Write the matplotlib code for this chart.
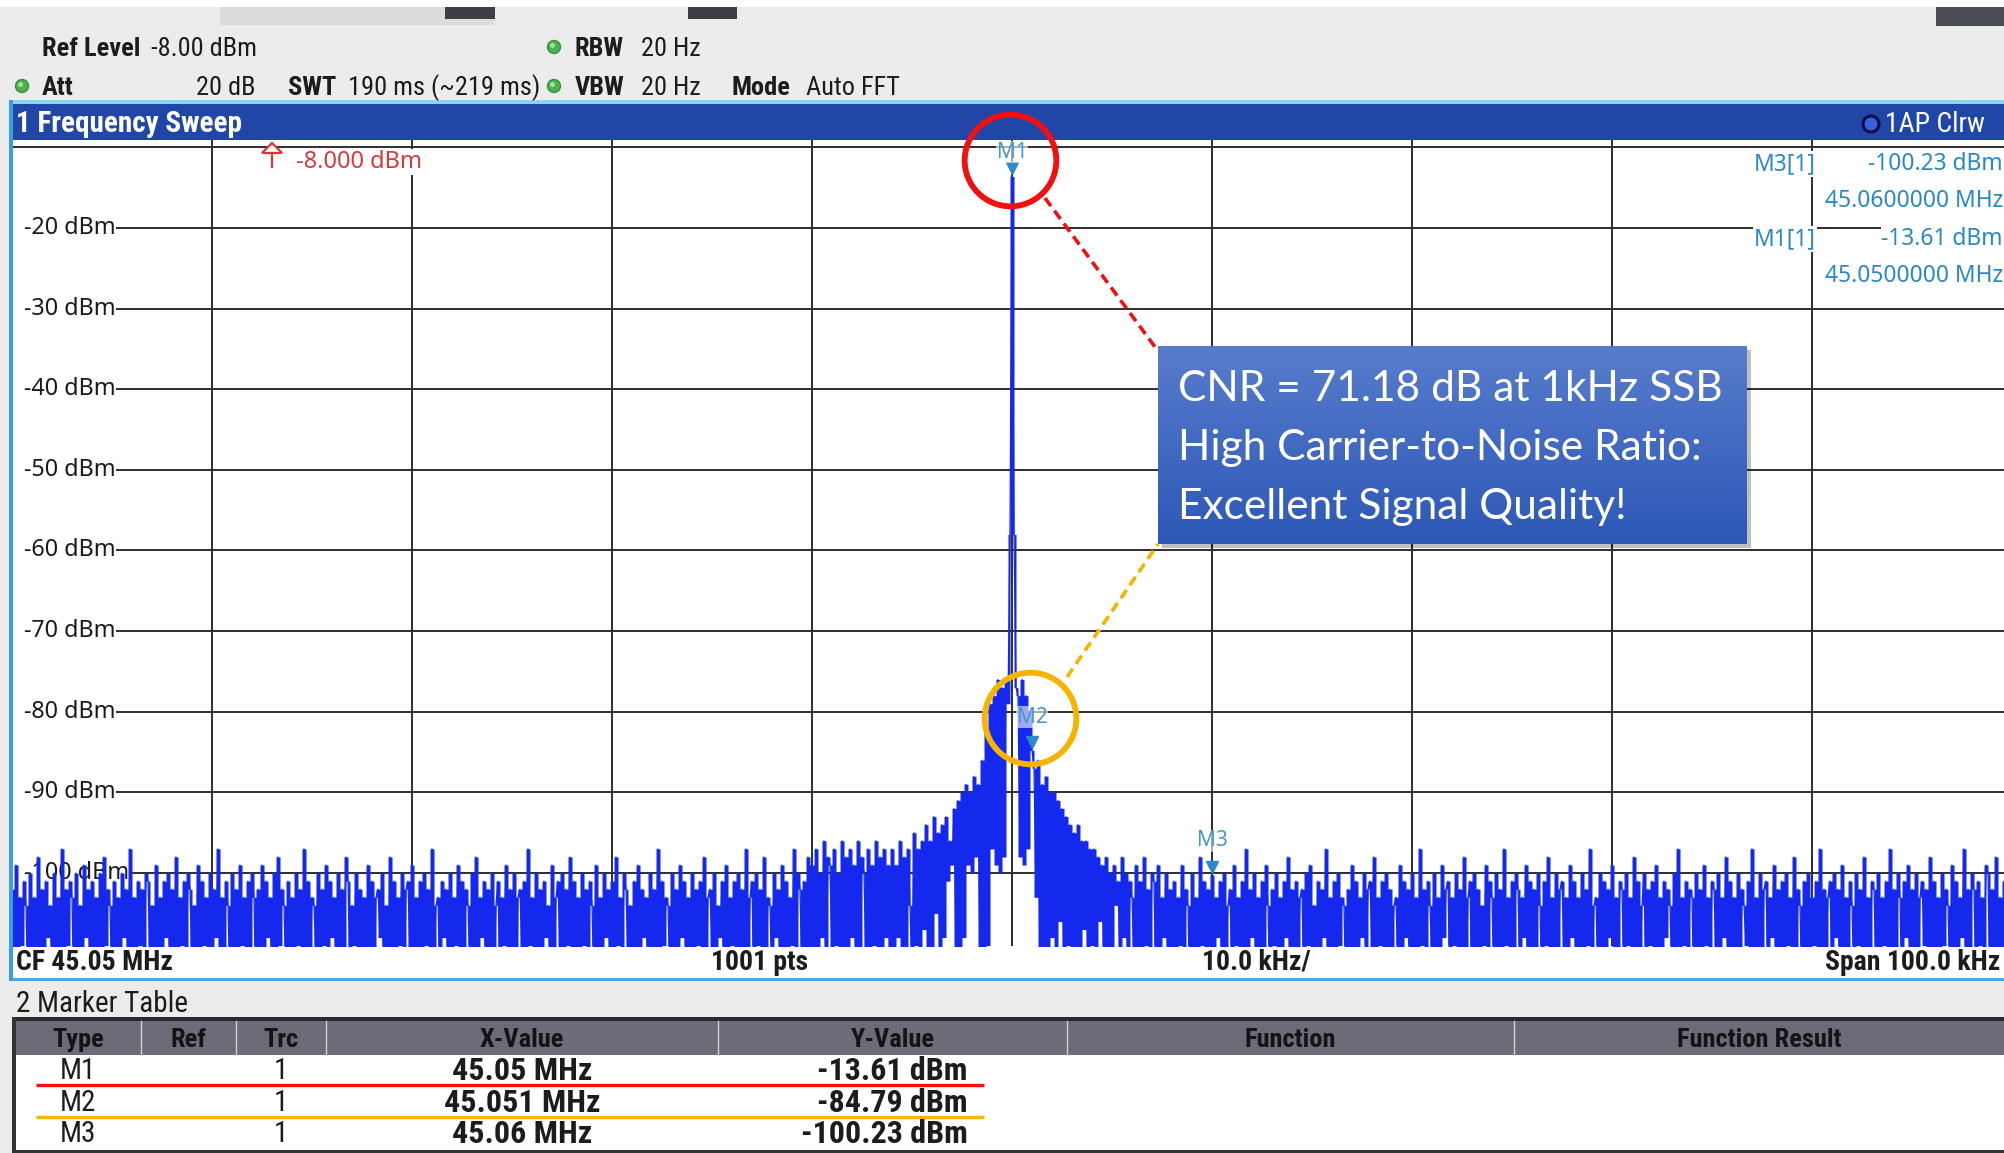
import matplotlib
matplotlib.use('Agg')
import matplotlib.pyplot as plt
import numpy as np
from matplotlib import font_manager
from matplotlib.patches import Rectangle, Circle, Polygon
import matplotlib.transforms as mtransforms

# ------------------------------------------------------------------ data
center_freq_mhz = 45.05
span_khz = 100.0
n_points = 1001
ref_level_dbm = -8.0
attenuation_db = 20
sweep_time_ms = 190
sweep_time_est_ms = 219
rbw_hz = 20
vbw_hz = 20

grid_levels_dbm = [-10, -20, -30, -40, -50, -60, -70, -80, -90, -100]
level_labels_dbm = [-20, -30, -40, -50, -60, -70, -80, -90, -100]
grid_freqs_mhz = [45.01, 45.02, 45.03, 45.04, 45.05, 45.06, 45.07, 45.08, 45.09]

# trace 1, points 0..439 (45.000 .. 45.0439 MHz)
trace_left_dbm = [
    -102, -112, -99, -115, -103, -109, -101, -104, -117, -100, -111, -103, -119, -98, -110, -102, -114, -101, -108, -104,
    -113, -100, -116, -103, -110, -97, -112, -102, -109, -101, -103, -118, -100, -111, -104, -115, -99, -108, -102, -113,
    -101, -110, -103, -117, -100, -112, -98, -109, -102, -104, -115, -101, -111, -103, -119, -100, -108, -102, -113, -97,
    -110, -103, -116, -101, -109, -102, -114, -100, -101, -112, -104, -118, -99, -110, -103, -113, -101, -108, -100, -115,
    -102, -111, -98, -117, -103, -109, -101, -114, -100, -102, -112, -104, -110, -99, -116, -101, -109, -103, -119, -100,
    -112, -102, -108, -97, -113, -103, -111, -101, -104, -115, -100, -110, -102, -117, -99, -109, -103, -112, -101, -114,
    -100, -103, -118, -102, -110, -99, -113, -101, -108, -103, -116, -100, -111, -98, -109, -102, -104, -114, -101, -112,
    -103, -117, -100, -109, -102, -113, -97, -110, -101, -115, -103, -104, -111, -100, -118, -102, -109, -99, -114, -101,
    -108, -103, -112, -100, -116, -102, -110, -98, -101, -113, -104, -109, -100, -119, -102, -111, -103, -115, -99, -110,
    -101, -114, -103, -102, -108, -100, -117, -104, -112, -98, -110, -101, -113, -103, -109, -100, -116, -102, -101, -111,
    -99, -115, -103, -110, -101, -118, -100, -109, -102, -113, -97, -111, -104, -103, -116, -101, -108, -102, -114, -100,
    -112, -103, -109, -99, -117, -101, -110, -102, -104, -113, -100, -115, -98, -111, -103, -108, -101, -119, -102, -110,
    -100, -113, -104, -101, -116, -103, -109, -99, -112, -102, -110, -100, -118, -103, -102, -111, -101, -114, -97, -109,
    -103, -115, -100, -110, -102, -117, -101, -108, -104, -112, -99, -113, -103, -101, -110, -100, -116, -102, -109, -98,
    -114, -101, -111, -103, -119, -100, -109, -102, -113, -101, -104, -115, -99, -110, -103, -117, -100, -108, -102, -112,
    -101, -116, -98, -109, -103, -114, -100, -102, -111, -104, -118, -101, -110, -99, -113, -102, -108, -103, -115, -100,
    -112, -102, -110, -97, -117, -101, -109, -103, -104, -114, -100, -111, -102, -116, -99, -108, -101, -113, -103, -110,
    -100, -119, -102, -109, -101, -112, -98, -115, -103, -102, -110, -100, -114, -104, -108, -101, -117, -99, -111, -103,
    -109, -101, -113, -100, -116, -102, -110, -97, -112, -103, -101, -118, -100, -109, -102, -114, -98, -111, -103, -104,
    -115, -100, -108, -102, -113, -99, -110, -101, -117, -103, -109, -97, -112, -100, -102, -114, -101, -110, -98, -116,
    -99, -110, -97, -113, -100, -108, -96, -115, -98, -99, -111, -97, -109, -100, -117, -96, -110, -98, -112, -97,
    -108, -99, -114, -96, -110, -98, -100, -112, -97, -116, -99, -109, -96, -113, -98, -111, -97, -108, -99, -114,
]

# trace 1, points 440..560 (carrier skirt, 45.0440 .. 45.0560 MHz)
trace_center_dbm = [
    -97, -112, -99, -108, -96, -110, -98, -115, -97, -104, -113, -95, -109, -97, -118, -96, -107, -94, -112, -96,
    -110, -93, -105, -95, -114, -94, -108, -93, -101, -96, -99, -92, -111, -91, -113, -90, -108, -89, -99, -90,
    -100, -88, -98, -89, -112, -86, -110, -82, -109, -79, -97, -78, -99, -76, -100, -77, -98, -76, -79, -58,
    -13.61,
    -58, -77, -78, -98, -76, -99, -78, -97, -80, -84.79, -87, -103, -86, -112, -89, -110, -88, -115, -90, -108,
    -90, -113, -91, -106, -92, -116, -93, -109, -94, -112, -95, -110, -94, -118, -96, -107, -96, -113, -97, -109,
    -97, -116, -98, -106, -99, -114, -98, -110, -100, -117, -99, -104, -101, -112, -98, -108, -100, -115, -101, -103,
]

# trace 1, points 561..1000 (45.0561 .. 45.1000 MHz)
trace_right_dbm = [
    -112, -99, -110, -101, -115, -98, -109, -102, -113, -100, -101, -117, -99, -111, -103, -108, -100, -114, -102, -110,
    -101, -116, -103, -109, -99, -112, -102, -104, -118, -100, -110, -103, -113, -98, -109, -101, -115, -102, -111, -100.23,
    -113, -103, -108, -101, -117, -100, -110, -104, -102, -114, -99, -109, -103, -119, -101, -111, -97, -112, -102, -108,
    -100, -115, -103, -110, -101, -113, -99, -104, -116, -102, -109, -100, -118, -103, -111, -101, -108, -98, -114, -102,
    -110, -101, -112, -103, -102, -117, -100, -109, -99, -113, -104, -110, -101, -115, -102, -108, -97, -116, -103, -111,
    -101, -114, -100, -109, -103, -104, -118, -102, -110, -99, -112, -101, -116, -103, -108, -100, -113, -102, -101, -110,
    -98, -115, -103, -109, -101, -112, -100, -117, -102, -110, -104, -103, -114, -99, -111, -101, -108, -102, -119, -100,
    -110, -103, -113, -97, -109, -102, -116, -101, -104, -112, -100, -111, -103, -115, -99, -108, -102, -101, -117, -103,
    -109, -100, -114, -102, -110, -98, -113, -103, -101, -118, -100, -111, -102, -116, -104, -109, -99, -112, -101, -103,
    -115, -100, -110, -102, -113, -97, -109, -103, -117, -101, -111, -100, -102, -114, -103, -108, -99, -119, -101, -110,
    -102, -112, -100, -104, -116, -101, -109, -98, -113, -103, -110, -100, -115, -102, -101, -111, -103, -117, -99, -108,
    -101, -114, -103, -110, -100, -118, -102, -109, -97, -112, -104, -103, -115, -100, -110, -101, -113, -102, -108, -99,
    -116, -103, -111, -101, -102, -114, -100, -109, -103, -117, -98, -110, -101, -112, -104, -100, -115, -102, -109, -101,
    -113, -99, -110, -103, -118, -101, -108, -102, -104, -114, -100, -111, -97, -116, -103, -109, -101, -112, -102, -103,
    -117, -100, -110, -102, -113, -99, -109, -103, -115, -101, -102, -111, -100, -119, -103, -108, -98, -114, -101, -110,
    -103, -112, -100, -116, -102, -104, -109, -101, -113, -97, -110, -103, -117, -100, -111, -102, -101, -115, -103, -108,
    -99, -114, -102, -110, -101, -118, -100, -109, -103, -112, -98, -113, -102, -104, -116, -101, -110, -100, -115, -103,
    -109, -101, -112, -97, -117, -102, -110, -103, -101, -114, -100, -108, -102, -119, -99, -111, -103, -113, -101, -104,
    -115, -100, -109, -102, -112, -98, -116, -103, -110, -101, -102, -113, -100, -118, -103, -109, -101, -111, -97, -114,
    -102, -110, -100, -103, -117, -101, -108, -99, -113, -102, -111, -100, -115, -103, -101, -109, -102, -116, -98, -112,
    -101, -110, -103, -118, -100, -109, -102, -104, -114, -99, -111, -101, -113, -103, -108, -97, -117, -102, -110, -100,
    -102, -115, -101, -109, -103, -112, -99, -100, -116, -102, -110, -98, -113, -103, -111, -101, -114, -100, -108, -102,
]

marker_names = ['M1', 'M2', 'M3']
marker_freq_mhz = [45.05, 45.051, 45.06]
marker_level_dbm = [-13.61, -84.79, -100.23]
marker_trace = [1, 1, 1]
info_markers = ['M3', 'M1']
table_columns = ['Type', 'Ref', 'Trc', 'X-Value', 'Y-Value', 'Function', 'Function Result']
cnr_db = 71.18
callout_lines = [f'CNR = {cnr_db:.2f} dB at 1kHz SSB',
                 'High Carrier-to-Noise Ratio:',
                 'Excellent Signal Quality!']

# ------------------------------------------------------------------ fonts
avail = {f.name for f in font_manager.fontManager.ttflist}
COND = 'DejaVu Sans'
for cand in ['Liberation Sans Narrow', 'Noto Sans Condensed', 'Roboto Condensed',
             'Open Sans Condensed', 'Arial Narrow']:
    if cand in avail:
        COND = cand
        break
UI = 'Noto Sans' if 'Noto Sans' in avail else 'DejaVu Sans'
CALL = 'Lato' if 'Lato' in avail else UI

# ------------------------------------------------------------------ figure
W, H = 2004, 1153
fig = plt.figure(figsize=(W / 100, H / 100), dpi=100)

bg = fig.add_axes([0, 0, 1, 1], zorder=0)
bg.set_xlim(0, W)
bg.set_ylim(H, 0)
bg.axis('off')


def rect(a, x0, y0, x1, y1, color, **kw):
    a.add_patch(Rectangle((x0, y0), x1 - x0, y1 - y0, facecolor=color,
                          edgecolor='none', **kw))


def txt(a, x, y, s, size=18, weight='normal', color='#1c1c1c', family=None,
        ha='left', va='center', **kw):
    a.text(x, y, s, fontsize=size, fontweight=weight, color=color,
           family=family or COND, ha=ha, va=va, **kw)


# background / header
rect(bg, 0, 0, W, H, '#ececec')
rect(bg, 0, 0, W, 7, 'white')
rect(bg, 220, 7, 494, 25, '#dcdcdc')
rect(bg, 445, 7, 495, 19, '#3c4046')
rect(bg, 688, 7, 737, 19, '#3c4046')
rect(bg, 1936, 7, W, 26, '#4a4e54')

row1, row2 = 49, 88
HS = 19
txt(bg, 42, row1, 'Ref Level', size=HS, weight='bold')
txt(bg, 151, row1, f'{ref_level_dbm:.2f} dBm', size=HS)
txt(bg, 42, row2, 'Att', size=HS, weight='bold')
txt(bg, 256, row2, f'{attenuation_db} dB', size=HS, ha='right')
txt(bg, 288, row2, 'SWT', size=HS, weight='bold')
txt(bg, 348, row2, f'{sweep_time_ms} ms (~{sweep_time_est_ms} ms)', size=HS)
txt(bg, 575, row1, 'RBW', size=HS, weight='bold')
txt(bg, 641, row1, f'{rbw_hz} Hz', size=HS)
txt(bg, 575, row2, 'VBW', size=HS, weight='bold')
txt(bg, 641, row2, f'{vbw_hz} Hz', size=HS)
txt(bg, 732, row2, 'Mode', size=HS, weight='bold')
txt(bg, 806, row2, 'Auto FFT', size=HS)
for (cx, cy) in [(22, row2 - 2), (554, row1 - 2), (554, row2 - 2)]:
    bg.add_patch(Circle((cx, cy), 6.5, facecolor='#4cb050', edgecolor='#36923a', lw=1))
    bg.add_patch(Circle((cx - 1.5, cy - 1.5), 2.5, facecolor='#9ee0a0', edgecolor='none'))

# blue title bar
rect(bg, 10, 100, W, 104, '#8fd3f2')
rect(bg, 10, 104, W, 140, '#2046a8')
txt(bg, 16, 124, '1 Frequency Sweep', size=21, weight='bold', color='white')
bg.add_patch(Circle((1871, 124), 8, facecolor='#3a5ee0', edgecolor='#0a1040', lw=2.2))
txt(bg, 1885, 124, '1AP Clrw', size=20, color='white')

# bottom strip of the diagram
rect(bg, 10, 946, W, 978, 'white')
rect(bg, 10, 978, W, 981, '#4aa8e0')
span_lbl_y = 962
BS = 20
txt(bg, 16, span_lbl_y, f'CF {center_freq_mhz:.2f} MHz', size=BS, weight='bold')
txt(bg, 711, span_lbl_y, f'{n_points} pts', size=BS, weight='bold')
txt(bg, 1202, span_lbl_y, f'{span_khz / 10:.1f} kHz/', size=BS, weight='bold')
txt(bg, 2000, span_lbl_y, f'Span {span_khz:.1f} kHz', size=BS, weight='bold', ha='right')

# marker table
txt(bg, 16, 1004, '2 Marker Table', size=21)
rect(bg, 13, 1017, W, 1021, '#2a2a2a')
rect(bg, 15, 1021, W, 1055, '#6c6c78')
rect(bg, 15, 1055, W, 1150, 'white')
rect(bg, 12, 1017, 16, H, '#333333')
rect(bg, 12, 1150, W, H, '#333333')
col_edges = [15, 141, 236, 326, 718, 1067, 1514, 2004]
for xe in col_edges[1:-1]:
    bg.plot([xe, xe], [1021, 1055], color='#cfcfd6', lw=1)
for i, name in enumerate(table_columns):
    cxm = (col_edges[i] + col_edges[i + 1]) / 2
    txt(bg, cxm, 1040, name, size=19, weight='bold', color='#141414', ha='center')
row_y = [1071, 1103, 1134]
for i, name in enumerate(marker_names):
    y = row_y[i]
    txt(bg, 78, y, name, size=21, ha='center')
    txt(bg, 281, y, str(marker_trace[i]), size=21, ha='center')
    txt(bg, 522, y, f'{marker_freq_mhz[i]:g} MHz', size=23, weight='bold', ha='center')
    txt(bg, 968, y, f'{marker_level_dbm[i]:.2f} dBm', size=23, weight='bold', ha='right')
bg.plot([36, 984], [1085, 1085], color='#ff1010', lw=2.4, solid_capstyle='butt')
bg.plot([36, 984], [1117, 1117], color='#f7b500', lw=2.4, solid_capstyle='butt')

# ------------------------------------------------------------------ diagram
px_left, px_right, px_top, px_bottom = 12, 2004, 140, 946
ax = fig.add_axes([px_left / W, 1 - px_bottom / H, (px_right - px_left) / W,
                   (px_bottom - px_top) / H], zorder=1)
f_start = center_freq_mhz - span_khz / 2000
ax.set_xlim(f_start, f_start + span_khz / 1000 * (px_right - px_left) / 2000)
ax.set_ylim(-109.05, -9.09)
ax.set_facecolor('white')
for sp in ax.spines.values():
    sp.set_visible(False)
ax.set_xticks(grid_freqs_mhz)
ax.set_yticks(grid_levels_dbm)
ax.tick_params(length=0, labelbottom=False, labelleft=False)
ax.grid(True, color='#2e2e2e', lw=1.4, zorder=0)
ax.set_axisbelow(True)

ytr = ax.get_yaxis_transform()
for lv in level_labels_dbm:
    ax.add_patch(Rectangle((0, lv - 0.6), 0.006, 1.2, transform=ytr,
                           facecolor='white', edgecolor='none', zorder=1.5))
    ax.text(0.0058, lv, f'{lv} dBm', transform=ytr,
            ha='left', va='center', fontsize=16.8, family=UI, color='#1a1a1a',
            bbox=dict(facecolor='white', edgecolor='none', pad=0.8), zorder=2)

trace = np.array(trace_left_dbm + trace_center_dbm + trace_right_dbm, dtype=float)
freqs = f_start + np.arange(n_points) * (span_khz / 1000 / (n_points - 1))
# each display column spans from one sweep point to the next
seg_lo = np.minimum(trace[:-1], trace[1:])
seg_hi = np.maximum(trace[:-1], trace[1:])
ax.fill_between(freqs, np.r_[seg_lo, seg_lo[-1]], np.r_[seg_hi, seg_hi[-1]],
                step='post', color='#1428ee', lw=0, zorder=3)
ax.plot(freqs, trace, color='#1428ee', lw=0.9, zorder=3)

# markers
label_offsets_pt = [17.5, 24, 24.5]
for name, f, v, off in zip(marker_names, marker_freq_mhz, marker_level_dbm, label_offsets_pt):
    tri = mtransforms.offset_copy(ax.transData, fig=fig, x=0, y=8, units='dots')
    ax.plot([f], [v], marker='v', ms=8.5, color='#2f88cc', transform=tri,
            zorder=6, clip_on=False)
    ax.annotate(name, xy=(f, v), xytext=(0, off), textcoords='offset points',
                ha='center', va='center', fontsize=15, family=UI, color='#4a98c8',
                bbox=dict(facecolor='white', edgecolor='none', alpha=0.6, pad=0.6),
                zorder=6, annotation_clip=False)

# highlight circles, anchored to markers M1 and M2
circ_specs = [(0, '#f01010', 16.5), (1, '#f5b400', 32.0)]
for idx, col, dy in circ_specs:
    tr = mtransforms.offset_copy(ax.transData, fig=fig, x=-2, y=dy, units='dots')
    ax.plot([marker_freq_mhz[idx]], [marker_level_dbm[idx]], marker='o', ms=66,
            mfc='none', mec=col, mew=4.2, transform=tr, zorder=7, clip_on=False)

# ------------------------------------------------------------------ overlay
ov = fig.add_axes([0, 0, 1, 1], zorder=3)
ov.set_xlim(0, W)
ov.set_ylim(H, 0)
ov.axis('off')

# left window border
rect(ov, 9, 100, 13, 981, '#3a9ee0')

# reference level indicator
ov.plot([272, 272], [153, 167], color='#d83a3a', lw=1.6)
ov.add_patch(Polygon([(262, 153), (282, 153), (272, 143)], closed=True,
                     facecolor='white', edgecolor='#d83a3a', lw=1.6))
txt(ov, 296, 162, f'{ref_level_dbm:.3f} dBm', size=17, color='#d43c3c', family=UI,
    bbox=dict(facecolor='white', edgecolor='none', pad=0.5))

# marker info block
info_col = '#2b88c4'
iy = [164, 201, 239, 276]
for k, name in enumerate(info_markers):
    j = marker_names.index(name)
    kw = dict(size=16.4, color=info_col, family=UI, ha='right',
              bbox=dict(facecolor='white', edgecolor='none', pad=0.5))
    txt(ov, 1816, iy[2 * k], f'{name}[{marker_trace[j]}]', **kw)
    txt(ov, 2003, iy[2 * k], f'{marker_level_dbm[j]:.2f} dBm', **kw)
    txt(ov, 2003, iy[2 * k + 1], f'{marker_freq_mhz[j]:.7f} MHz', **kw)

# callout box
bx0, by0, bx1, by1 = 1158, 346, 1747, 544
rect(ov, bx0 + 4, by0 + 4, bx1 + 4, by1 + 4, '#000000', alpha=0.25)
top_c = np.array([0x58, 0x7c, 0xcc]) / 255
bot_c = np.array([0x2c, 0x58, 0xb6]) / 255
tt = np.linspace(0, 1, 64)[:, None, None]
grad = top_c[None, None, :] * (1 - tt) + bot_c[None, None, :] * tt
ov.imshow(grad, extent=(bx0, bx1, by1, by0), origin='upper', aspect='auto',
          interpolation='bilinear', zorder=4)
ov.set_xlim(0, W)
ov.set_ylim(H, 0)
for k, line in enumerate(callout_lines):
    ov.text(1178, 389 + 59 * k, line, fontsize=30.6, color='white', family=CALL,
            ha='left', va='center', zorder=5)

# dashed connectors
ov.plot([1045, 1158], [198, 351], color='#f01010', lw=2.6, dashes=(2.8, 1.6), zorder=3)
ov.plot([1067, 1158], [677, 544], color='#f5b400', lw=2.6, dashes=(2.8, 1.6), zorder=3)

fig.savefig('out.png', dpi=100)
